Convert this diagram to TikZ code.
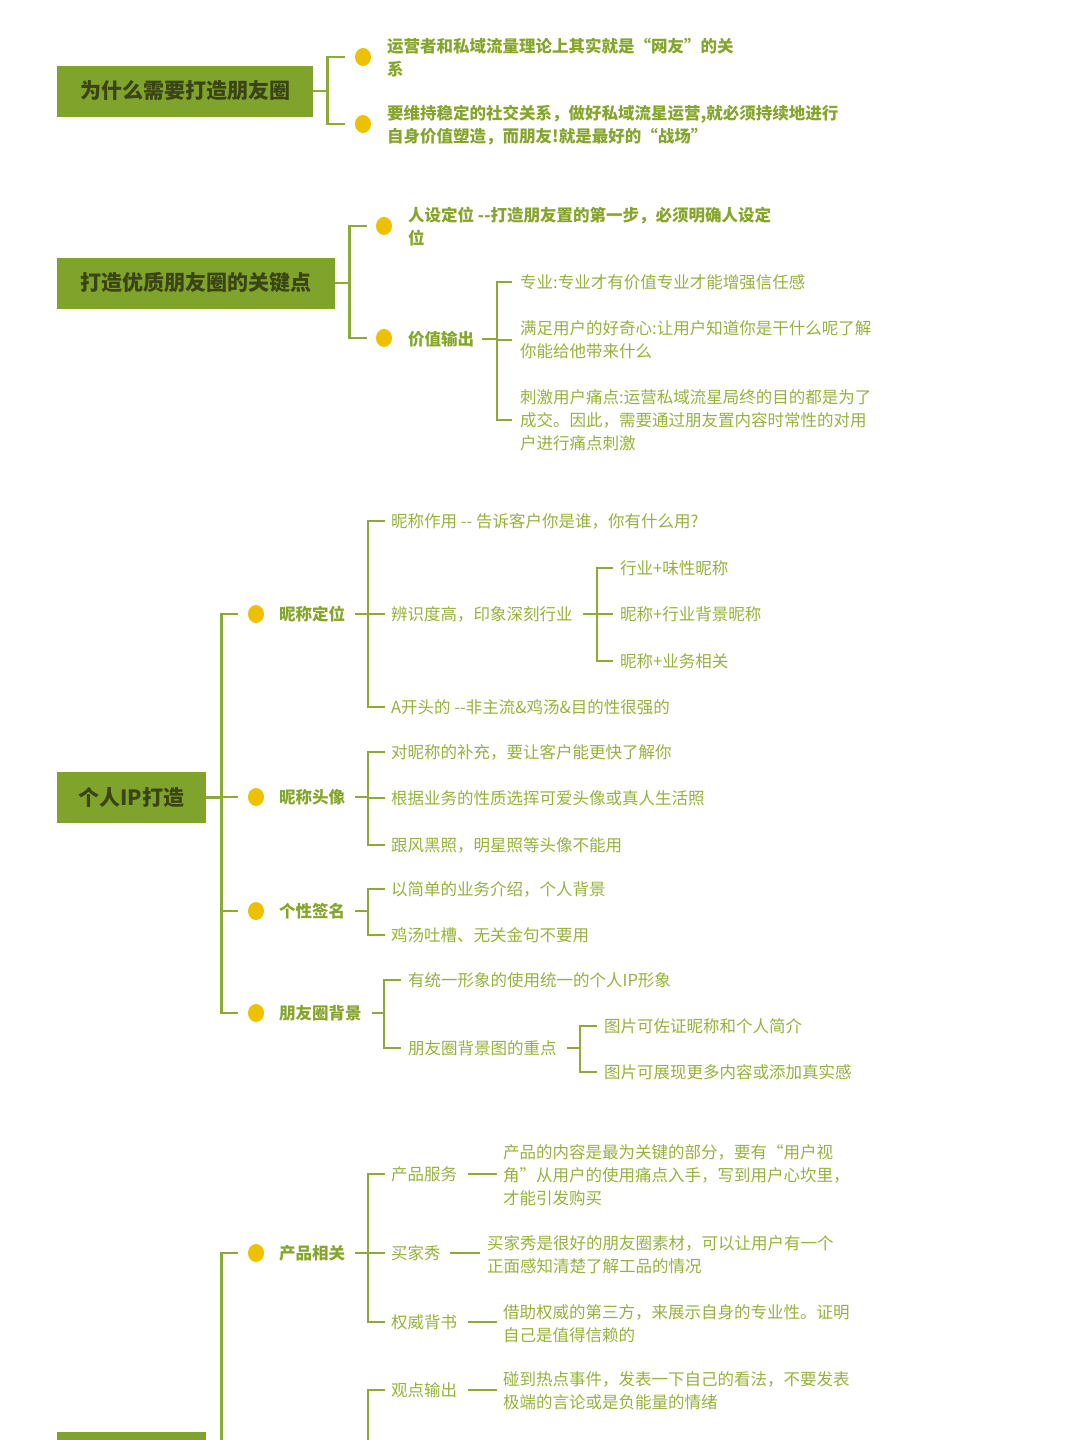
\documentclass[tikz,border=0pt]{standalone}
\usepackage{fontspec}
\setmainfont{Noto Sans CJK SC}
\usetikzlibrary{calc,shapes.geometric}
\definecolor{boxg}{HTML}{7FA32B}
\definecolor{boxt}{HTML}{3A4414}
\definecolor{lineg}{HTML}{8DAA36}
\definecolor{txtg}{HTML}{96B23C}
\definecolor{txtb}{HTML}{86A52C}
\definecolor{dotc}{HTML}{EDC000}
\begin{document}
\begin{tikzpicture}[x=1pt,y=-1pt,
  rootbox/.style={fill=boxg, text=boxt, font=\fontsize{21}{25}\selectfont\bfseries, inner sep=0pt, minimum height=51pt},
  ydot/.style={ellipse, fill=dotc, minimum width=16pt, minimum height=18pt, inner sep=0pt},
  lab/.style={anchor=west, inner sep=0pt, text=txtb, font=\fontsize{16.5}{23}\selectfont\bfseries, align=left},
  itm/.style={anchor=west, inner sep=0pt, text=txtg, font=\fontsize{16.5}{23}\selectfont, align=left},
  conn/.style={draw=lineg, line width=2.8pt},
]
\clip (0,0) rectangle (1080,1440);
\useasboundingbox (0,0) rectangle (1080,1440);
\fill[white] (0,0) rectangle (1080,1440);

% ---------------- Section 1
\node[rootbox, minimum width=256pt] (b1) at (185,91) {为什么需要打造朋友圈};
\node[ydot] (d1) at (363,57) {};
\node[ydot] (d2) at (363,124) {};
\node[lab] (a1) at (387,58) {运营者和私域流量理论上其实就是“网友”的关\\系};
\node[lab] (a2) at (387,125) {要维持稳定的社交关系，做好私域流星运营,就必须持续地进行\\自身价值塑造，而朋友!就是最好的“战场”};
\draw[conn] (b1.east) -- ++(14,0) coordinate (j1);
\draw[conn] (j1) |- ([xshift=-10pt]d1.west);
\draw[conn] (j1) |- ([xshift=-10pt]d2.west);

% ---------------- Section 2
\node[rootbox, minimum width=278pt] (b2) at (196,283) {打造优质朋友圈的关键点};
\node[ydot] (d3) at (384,226) {};
\node[ydot] (d4) at (384,338) {};
\node[lab] (a3) at (408,227) {人设定位 -{}-打造朋友置的第一步，必须明确人设定\\位};
\node[lab] (a4) at (408,339) {价值输出};
\draw[conn] (b2.east) -- ++(14,0) coordinate (j2);
\draw[conn] (j2) |- ([xshift=-9pt]d3.west);
\draw[conn] (j2) |- ([xshift=-9pt]d4.west);
\node[itm] (c1) at (520,282) {专业:专业才有价值专业才能增强信任感};
\node[itm] (c2) at (520,340) {满足用户的好奇心:让用户知道你是干什么呢了解\\你能给他带来什么};
\node[itm] (c3) at (520,420) {刺激用户痛点:运营私域流星局终的目的都是为了\\成交。因此，需要通过朋友置内容时常性的对用\\户进行痛点刺激};
\coordinate (j3) at (497,339);
\draw[conn] ([xshift=8pt]a4.east) -- (j3);
\draw[conn] (j3) |- ([xshift=-8pt]c1.west);
\draw[conn] (j3) |- ([xshift=-8pt]c2.west);
\draw[conn] (j3) |- ([xshift=-8pt]c3.west);

% ---------------- Section 3
\node[rootbox, minimum width=149pt] (b3) at (131.5,797.5) {个人IP打造};
\node[ydot] (e1) at (256,614) {};
\node[ydot] (e2) at (256,797) {};
\node[ydot] (e3) at (256,911) {};
\node[ydot] (e4) at (256,1013) {};
\node[lab] (n1) at (279,614) {昵称定位};
\node[lab] (n2) at (279,797) {昵称头像};
\node[lab] (n3) at (279,911) {个性签名};
\node[lab] (n4) at (279,1013) {朋友圈背景};
\draw[conn] (b3.east) -- ++(15,0) coordinate (k1);
\foreach \d in {e1,e2,e3,e4} \draw[conn] (k1) |- ([xshift=-10pt]\d.west);

% 昵称定位
\node[itm] (m1) at (391,521) {昵称作用 -{}- 告诉客户你是谁，你有什么用?};
\node[itm] (m2) at (391,614) {辨识度高，印象深刻行业};
\node[itm] (m3) at (391,707) {A开头的 -{}-非主流\&鸡汤\&目的性很强的};
\coordinate (k2) at (368,614);
\draw[conn] ([xshift=10pt]n1.east) -- (k2);
\foreach \m in {m1,m2,m3} \draw[conn] (k2) |- ([xshift=-6pt]\m.west);
\node[itm] (p1) at (620,568) {行业+味性昵称};
\node[itm] (p2) at (620,614) {昵称+行业背景昵称};
\node[itm] (p3) at (620,661) {昵称+业务相关};
\coordinate (k3) at (597,614);
\draw[conn] ([xshift=10pt]m2.east) -- (k3);
\foreach \p in {p1,p2,p3} \draw[conn] (k3) |- ([xshift=-7pt]\p.west);

% 昵称头像
\node[itm] (m4) at (391,752) {对昵称的补充，要让客户能更快了解你};
\node[itm] (m5) at (391,798) {根据业务的性质选挥可爱头像或真人生活照};
\node[itm] (m6) at (391,845) {跟风黑照，明星照等头像不能用};
\coordinate (k4) at (368,797);
\draw[conn] ([xshift=10pt]n2.east) -- (k4);
\foreach \m in {m4,m5,m6} \draw[conn] (k4) |- ([xshift=-6pt]\m.west);

% 个性签名
\node[itm] (m7) at (391,889) {以简单的业务介绍，个人背景};
\node[itm] (m8) at (391,935) {鸡汤吐槽、无关金句不要用};
\coordinate (k5) at (368,911);
\draw[conn] ([xshift=10pt]n3.east) -- (k5);
\foreach \m in {m7,m8} \draw[conn] (k5) |- ([xshift=-6pt]\m.west);

% 朋友圈背景
\node[itm] (m9) at (408,980) {有统一形象的使用统一的个人IP形象};
\node[itm] (m10) at (408,1048) {朋友圈背景图的重点};
\coordinate (k6) at (384,1013);
\draw[conn] ([xshift=10pt]n4.east) -- (k6);
\foreach \m in {m9,m10} \draw[conn] (k6) |- ([xshift=-7pt]\m.west);
\node[itm] (p4) at (604,1026) {图片可佐证昵称和个人简介};
\node[itm] (p5) at (604,1072) {图片可展现更多内容或添加真实感};
\coordinate (k7) at (580,1048);
\draw[conn] ([xshift=10pt]m10.east) -- (k7);
\foreach \p in {p4,p5} \draw[conn] (k7) |- ([xshift=-7pt]\p.west);

% ---------------- Section 4 (cut off at bottom)
\node[rootbox, minimum width=149pt] (b4) at (131.5,1457.5) {};
\node[ydot] (e5) at (256,1253) {};
\node[lab] (n5) at (279,1253) {产品相关};
\draw[conn] (b4.east) -- ++(15,0) coordinate (k8);
\draw[conn] (k8) |- ([xshift=-10pt]e5.west);
\draw[conn] (k8) -- ++(0,60);

\node[itm] (q1) at (391,1174) {产品服务};
\node[itm] (q2) at (391,1253) {买家秀};
\node[itm] (q3) at (391,1322) {权威背书};
\coordinate (k9) at (368,1253);
\draw[conn] ([xshift=10pt]n5.east) -- (k9);
\foreach \q in {q1,q2,q3} \draw[conn] (k9) |- ([xshift=-6pt]\q.west);

\node[itm] (r1) at (503,1175) {产品的内容是最为关键的部分，要有“用户视\\角”从用户的使用痛点入手，写到用户心坎里，\\才能引发购买};
\node[itm] (r2) at (487,1255) {买家秀是很好的朋友圈素材，可以让用户有一个\\正面感知清楚了解工品的情况};
\node[itm] (r3) at (503,1324) {借助权威的第三方，来展示自身的专业性。证明\\自己是值得信赖的};
\draw[conn] ([xshift=11pt]q1.east) -- ([xshift=-6pt]q1.east -| r1.west);
\draw[conn] ([xshift=9pt]q2.east) -- ([xshift=-7pt]q2.east -| r2.west);
\draw[conn] ([xshift=11pt]q3.east) -- ([xshift=-6pt]q3.east -| r3.west);

\coordinate (k10) at (368,1500);
\node[itm] (q4) at (391,1390) {观点输出};
\draw[conn] (k10) |- ([xshift=-6pt]q4.west);
\node[itm] (r4) at (503,1391) {碰到热点事件，发表一下自己的看法，不要发表\\极端的言论或是负能量的情绪};
\draw[conn] ([xshift=11pt]q4.east) -- ([xshift=-6pt]q4.east -| r4.west);
\end{tikzpicture}
\end{document}
